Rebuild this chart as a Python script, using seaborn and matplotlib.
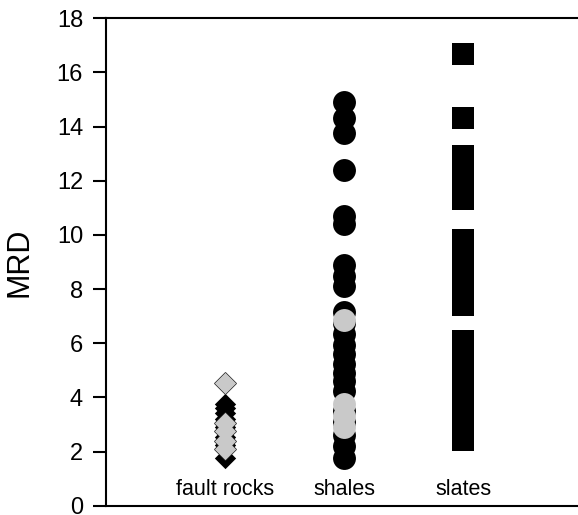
import pandas as pd
import matplotlib
matplotlib.use("Agg")
import matplotlib.pyplot as plt
import seaborn as sns

sns.set_style("ticks", {'axes.edgecolor': 'black', 'text.color': 'black',
                        'axes.labelcolor': 'black', 'xtick.color': 'black',
                        'ytick.color': 'black'})
plt.rcParams['font.family'] = ['Liberation Sans', 'DejaVu Sans']

# categories and their positions on the x axis
categories = ['fault rocks', 'shales', 'slates']
cat_pos = [1, 2, 3]

# MRD values (black = main set, gray = highlighted)
fault_black = [3.76, 3.6, 3.42, 3.2, 2.9, 2.55, 2.25, 1.76]
fault_gray = [4.53, 3.05, 2.75, 2.4, 2.1]
shales_black = [14.9, 14.3, 13.75, 12.38, 10.7, 10.42, 8.9, 8.5, 8.1,
                7.15, 6.75, 6.35, 5.95, 5.6, 5.25, 4.9, 4.6, 4.25,
                3.5, 3.1, 2.6, 2.2, 1.76]
shales_gray = [6.85, 3.75, 3.3, 2.9]
slates_black = [16.7, 14.3, 12.9, 12.4, 11.85, 11.34,
                9.83, 9.3, 8.8, 8.3, 7.85, 7.43,
                6.1, 5.65, 5.2, 4.75, 4.3, 3.85, 3.4, 2.9, 2.41]

rows = []
for vals, cat, shade in [(fault_black, 'fault rocks', 'black'),
                         (fault_gray, 'fault rocks', 'gray'),
                         (shales_black, 'shales', 'black'),
                         (shales_gray, 'shales', 'gray'),
                         (slates_black, 'slates', 'black')]:
    for v in vals:
        rows.append({'rock': cat, 'shade': shade, 'mrd': v,
                     'x': cat_pos[categories.index(cat)]})
df = pd.DataFrame(rows)

markers = {'fault rocks': 'D', 'shales': 'o', 'slates': 's'}
sizes = {'fault rocks': 118, 'shales': 272, 'slates': 272}
colors = {'black': '#000000', 'gray': '#C9C9C9'}

fig = plt.figure(figsize=(5.78, 5.15), dpi=100)
ax = fig.add_axes([106 / 578, 9.3 / 515, 472 / 578, 487.4 / 515])

# black first, gray on top
for shade in ['black', 'gray']:
    for cat in categories:
        sub = df[(df['rock'] == cat) & (df['shade'] == shade)]
        if sub.empty:
            continue
        if cat == 'fault rocks' and shade == 'gray':
            # outlined pass, then a plain pass so only the outer outline shows
            sns.scatterplot(data=sub, x='x', y='mrd', ax=ax,
                            marker='D', s=sizes[cat], color=colors[shade],
                            edgecolor='#222222', linewidth=1.0,
                            legend=False, zorder=3)
        sns.scatterplot(data=sub, x='x', y='mrd', ax=ax,
                        marker=markers[cat], s=sizes[cat],
                        color=colors[shade], edgecolor=colors[shade],
                        linewidth=0, legend=False, zorder=3)

for cat, xp in zip(categories, cat_pos):
    ax.text(xp, 0.4, cat, ha='center', va='baseline', fontsize=15.5,
            color='black')

ax.set_xlim(0, 3.966)
ax.set_ylim(0, 18)
ax.set_yticks(range(0, 19, 2))
ax.set_xticks([])
ax.set_xlabel('')
ax.set_ylabel('MRD', fontsize=22, color='black')
ax.yaxis.set_label_coords(-0.152, 0.5)
ax.tick_params(axis='y', direction='out', length=9.5, width=1.5,
               labelsize=17, pad=7, colors='black')
ax.spines['right'].set_visible(False)
for side in ['left', 'top', 'bottom']:
    ax.spines[side].set_linewidth(1.5)
    ax.spines[side].set_color('black')

fig.savefig("out.png", dpi=100)
plt.close(fig)
